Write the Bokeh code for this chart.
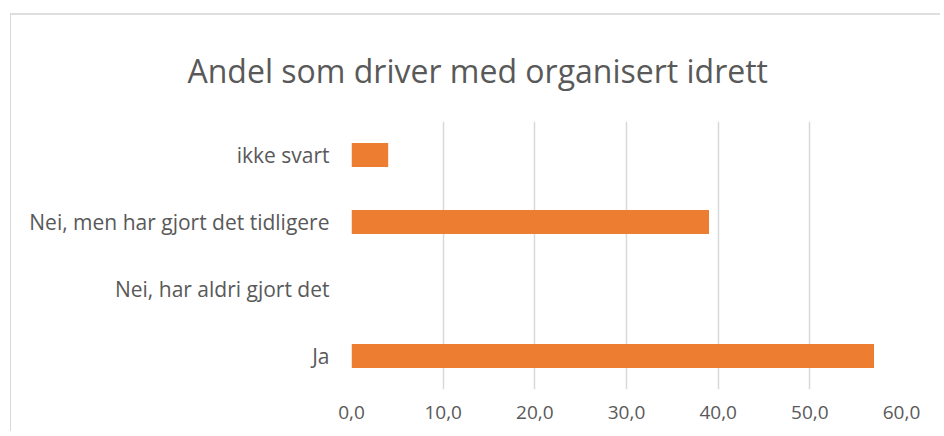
from bokeh.plotting import figure
from bokeh.models import FactorRange, Range1d, FixedTicker, CustomJSTickFormatter, ColumnDataSource
from bokeh.embed import file_html
from bokeh.resources import INLINE

categories = ["Ja", "Nei, har aldri gjort det", "Nei, men har gjort det tidligere", "ikke svart"]
values = [57.0, 0.0, 39.0, 4.0]
x_ticks = [0, 10, 20, 30, 40, 50, 60]
title_text = "Andel som driver med organisert idrett"

FONT = "Open Sans"
TEXT_COLOR = "#595959"
BAR_COLOR = "#ED7D31"

source = ColumnDataSource(dict(cat=categories, val=values))

p = figure(
    width=930, height=418,
    y_range=FactorRange(*categories, range_padding=0),
    x_range=Range1d(0, 60),
    output_backend="svg", toolbar_location=None,
    min_border_left=340, min_border_right=40, min_border_top=106, min_border_bottom=44,
    margin=(13, 0, 0, 10),
)
p.styles = {"border-top": "2px solid #dedede", "border-left": "1px solid #d9d9d9"}

p.hbar(y="cat", right="val", left=0, height=0.36, source=source,
       fill_color=BAR_COLOR, line_color=None)

p.title.text = title_text
p.title.text_font = FONT
p.title.text_font_size = "32px"
p.title.text_font_style = "normal"
p.title.text_color = TEXT_COLOR
p.title.align = "left"
p.title.vertical_align = "top"
p.title.offset = -164
p.title.standoff = 56

p.outline_line_color = None
p.background_fill_color = "white"
p.border_fill_color = "white"

p.xaxis.ticker = FixedTicker(ticks=x_ticks)
p.xaxis.formatter = CustomJSTickFormatter(code="return tick.toFixed(1).replace('.', ',');")
p.xaxis.axis_line_color = None
p.xaxis.major_tick_line_color = None
p.xaxis.minor_tick_line_color = None
p.xaxis.major_label_text_font = FONT
p.xaxis.major_label_text_font_size = "19px"
p.xaxis.major_label_text_color = TEXT_COLOR
p.xaxis.major_label_standoff = 10

p.yaxis.axis_line_color = None
p.yaxis.major_tick_line_color = None
p.yaxis.minor_tick_line_color = None
p.yaxis.major_label_text_font = FONT
p.yaxis.major_label_text_font_size = "21px"
p.yaxis.major_label_text_color = TEXT_COLOR
p.yaxis.major_label_standoff = 16

p.xgrid.grid_line_color = "#d9d9d9"
p.xgrid.grid_line_width = 1.5
p.ygrid.grid_line_color = None

open("out.html", "w").write(file_html(p, INLINE))
